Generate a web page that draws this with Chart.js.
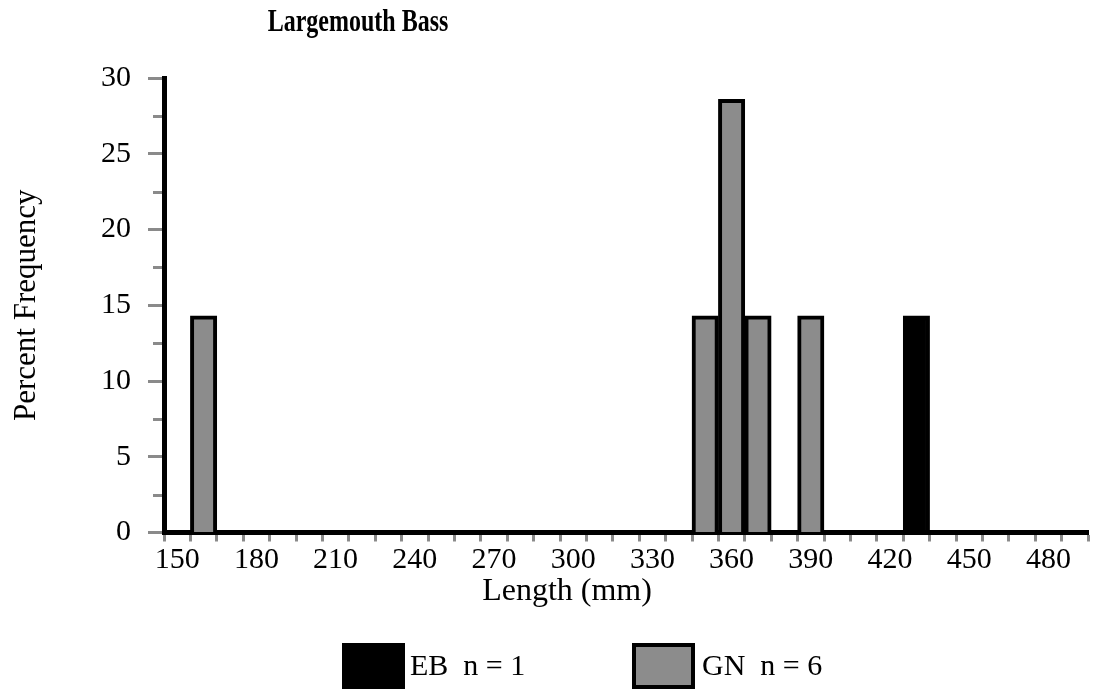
<!DOCTYPE html>
<html>
<head>
<meta charset="utf-8">
<script src="https://cdn.jsdelivr.net/npm/chart.js@4/dist/chart.umd.min.js"></script>
<style>
html,body{margin:0;padding:0;background:#ffffff;}
#wrap{width:1093px;height:690px;position:relative;}
</style>
</head>
<body>
<div id="wrap"><canvas id="c" width="1093" height="690"></canvas></div>
<script>
// ---- data ----
const chartTitle = 'Largemouth Bass';
const xAxisTitle = 'Length (mm)';
const yAxisTitle = 'Percent Frequency';
const categories = [150,160,170,180,190,200,210,220,230,240,250,260,270,280,290,300,310,320,330,340,350,360,370,380,390,400,410,420,430,440,450,460,470,480,490];
const xTickLabels = ['150','180','210','240','270','300','330','360','390','420','450','480'];
const yMinorTicks = [2.5,7.5,12.5,17.5,22.5,27.5];
const ebLabel = 'EB  n = 1';
const gnLabel = 'GN  n = 6';
const ebValues = [0,0,0,0,0,0,0,0,0,0,0,0,0,0,0,0,0,0,0,0,0,0,0,0,0,0,0,0,14.3,0,0,0,0,0,0];
const gnValues = [0,14.3,0,0,0,0,0,0,0,0,0,0,0,0,0,0,0,0,0,0,14.3,28.6,14.3,0,14.3,0,0,0,0,0,0,0,0,0,0];

// ---- styles ----
const FONT = "'Liberation Serif', 'Times New Roman', serif";
const GRAY = '#8c8c8c';
const TICKGRAY = '#8a8a8a';

const minorTicksPlugin = {
  id: 'minorTicks',
  afterDraw(chart) {
    const y = chart.scales.y;
    const ctx = chart.ctx;
    const left = chart.chartArea.left;
    ctx.save();
    ctx.strokeStyle = TICKGRAY;
    ctx.lineWidth = 3;
    yMinorTicks.forEach(v => {
      const py = Math.round(y.getPixelForValue(v)) + 0.5;
      ctx.beginPath();
      ctx.moveTo(left - 11, py);
      ctx.lineTo(left - 2, py);
      ctx.stroke();
    });
    ctx.restore();
  }
};

const textPlugin = {
  id: 'customText',
  afterDraw(chart) {
    const ctx = chart.ctx;
    ctx.save();
    ctx.fillStyle = '#000';
    // main title
    ctx.save();
    ctx.translate(358, 31);
    ctx.scale(1, 1.3);
    ctx.font = 'bold 24px ' + FONT;
    ctx.textAlign = 'center';
    ctx.textBaseline = 'alphabetic';
    ctx.fillText(chartTitle, 0, 0);
    ctx.restore();
    // x axis title
    ctx.font = '32px ' + FONT;
    ctx.textAlign = 'center';
    ctx.textBaseline = 'alphabetic';
    ctx.fillText(xAxisTitle, 567, 600);
    ctx.restore();
  }
};

const legendPlugin = {
  id: 'customLegend',
  afterDraw(chart) {
    const ctx = chart.ctx;
    const items = [
      {x: 342, tx: 410, ds: chart.data.datasets[0]},
      {x: 632, tx: 702, ds: chart.data.datasets[1]}
    ];
    ctx.save();
    items.forEach(it => {
      ctx.fillStyle = it.ds.backgroundColor;
      ctx.fillRect(it.x, 643, 63, 46);
      ctx.strokeStyle = it.ds.borderColor;
      ctx.lineWidth = 4;
      ctx.strokeRect(it.x + 2, 645, 59, 42);
      ctx.fillStyle = '#000';
      ctx.font = '30px ' + FONT;
      ctx.textAlign = 'left';
      ctx.textBaseline = 'alphabetic';
      ctx.fillText(it.ds.label, it.tx, 675);
    });
    ctx.restore();
  }
};

new Chart(document.getElementById('c'), {
  type: 'bar',
  data: {
    labels: categories,
    datasets: [
      {label: ebLabel, data: ebValues, backgroundColor: '#000000', borderColor: '#000000', borderWidth: 4, borderSkipped: 'start'},
      {label: gnLabel, data: gnValues, backgroundColor: GRAY, borderColor: '#000000', borderWidth: 4, borderSkipped: 'start'}
    ]
  },
  options: {
    responsive: false,
    animation: false,
    devicePixelRatio: 1,
    layout: {padding: {top: 78, right: 5, bottom: 0, left: 0}},
    datasets: {bar: {grouped: false, barPercentage: 1, categoryPercentage: 1}},
    plugins: {
      legend: {display: false},
      title: {display: false},
      tooltip: {enabled: false}
    },
    scales: {
      x: {
        offset: true,
        grid: {display: true, offset: true, drawOnChartArea: false, drawTicks: true, tickLength: 9, tickColor: TICKGRAY, tickWidth: 3},
        border: {display: true, color: '#000', width: 5},
        ticks: {
          autoSkip: false, maxRotation: 0, minRotation: 0, padding: 1,
          color: '#000', font: {family: FONT, size: 30},
          callback: function(value) {
            const lab = String(this.getLabelForValue(value));
            return xTickLabels.includes(lab) ? lab : '';
          }
        },
        afterFit: s => { s.height = 157.5; }
      },
      y: {
        min: 0, max: 30,
        grid: {display: true, drawOnChartArea: false, drawTicks: true, tickLength: 16, tickColor: TICKGRAY, tickWidth: 3},
        border: {display: true, color: '#000', width: 5},
        ticks: {stepSize: 5, padding: 17, color: '#000', font: {family: FONT, size: 30}},
        title: {display: true, text: yAxisTitle, color: '#000', font: {family: FONT, size: 31}, padding: {top: 8, bottom: 0}},
        afterFit: s => { s.width = 164; }
      }
    }
  },
  plugins: [minorTicksPlugin, textPlugin, legendPlugin]
});
</script>
</body>
</html>
